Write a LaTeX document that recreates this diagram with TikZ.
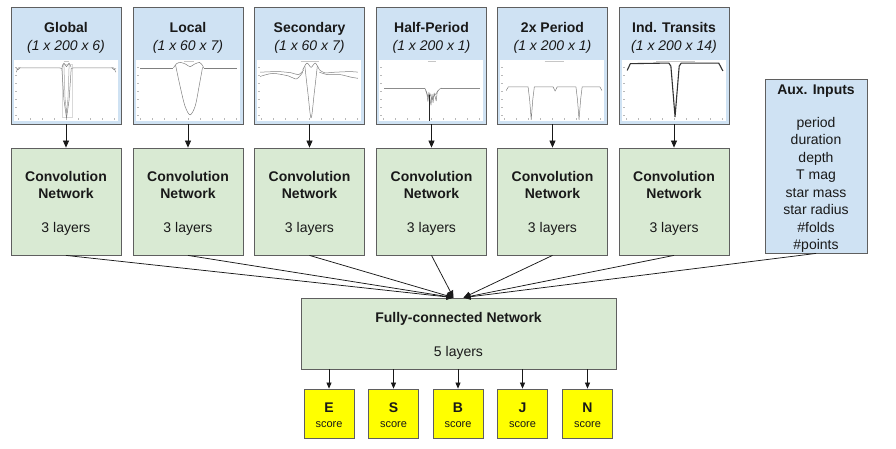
\documentclass[tikz,border=0pt]{standalone}
\usepackage{fontspec}
\setmainfont{Liberation Sans}
\usetikzlibrary{arrows.meta,calc}
\definecolor{inblue}{HTML}{CFE2F3}
\definecolor{convgreen}{HTML}{D9EAD3}
\definecolor{scoreyel}{HTML}{FFFF00}
\definecolor{edgegray}{HTML}{5F5F5F}
\newcommand\myplotaxes{%
  \fill[white] (0,0) rectangle (1,1);
  \foreach \t in {0.1,0.23,...,0.95} \draw[plottick] (0.012,\t)--(0.03,\t);
  \foreach \t in {0.04,0.155,...,0.99} \draw[plottick] (\t,0.02)--(\t,0.045);
}
\begin{document}
\begin{tikzpicture}[x=1pt,y=-1pt,
  font=\fontsize{14}{16}\selectfont,
  inbox/.style={draw=edgegray, line width=0.8pt, fill=inblue, minimum width=110pt, minimum height=117pt, inner sep=0pt},
  convbox/.style={draw=edgegray, line width=0.8pt, fill=convgreen, minimum width=110pt, minimum height=107pt, inner sep=0pt},
  auxbox/.style={draw=edgegray, line width=0.8pt, fill=inblue, minimum width=102pt, minimum height=174pt, inner sep=0pt},
  fcbox/.style={draw=edgegray, line width=0.8pt, fill=convgreen, minimum width=315pt, minimum height=71pt, inner sep=0pt},
  scorebox/.style={draw=edgegray, line width=0.8pt, fill=scoreyel, minimum width=50pt, minimum height=49pt, inner sep=0pt},
  txt/.style={anchor=base, inner sep=0pt, text=black!90},
  btxt/.style={txt, font=\fontsize{14}{16}\selectfont\bfseries},
  itxt/.style={txt, font=\fontsize{14}{16}\selectfont\itshape},
  stxt/.style={txt, font=\fontsize{11}{13}\selectfont},
  arr/.style={draw=black!90, line width=0.75pt, -{Triangle[length=7pt,width=6pt]}},
  plottick/.style={draw=gray!55, line width=0.3pt},
  curve/.style={draw=black!50, line width=0.5pt, line join=round},
  ptitle/.style={draw=gray!45, line width=0.8pt},
]
\useasboundingbox (0,0) rectangle (896,448);

% ---------- input boxes ----------
\node[inbox] (in1) at (66,65.5) {};
\node[inbox] (in2) at (188,65.5) {};
\node[inbox] (in3) at (309.5,65.5) {};
\node[inbox] (in4) at (431.5,65.5) {};
\node[inbox] (in5) at (552.5,65.5) {};
\node[inbox] (in6) at (674,65.5) {};

\node[btxt] (t1a) at (66,32) {Global};
\node[itxt] (t1b) at (66,50) {(1 x 200 x 6)};
\node[btxt] (t2a) at (188,32) {Local};
\node[itxt] (t2b) at (188,50) {(1 x 60 x 7)};
\node[btxt] (t3a) at (309.5,32) {Secondary};
\node[itxt] (t3b) at (309.5,50) {(1 x 60 x 7)};
\node[btxt] (t4a) at (431.5,32) {Half-Period};
\node[itxt] (t4b) at (431.5,50) {(1 x 200 x 1)};
\node[btxt] (t5a) at (552.5,32) {2x Period};
\node[itxt] (t5b) at (552.5,50) {(1 x 200 x 1)};
\node[btxt] (t6a) at (674,32) {Ind. Transits};
\node[itxt] (t6b) at (674,50) {(1 x 200 x 14)};

% ---------- plots ----------
% Global
\begin{scope}[shift={(14,121)},x=104pt,y=61pt]
  \myplotaxes
  \draw[ptitle] (0.48,0.975)--(0.53,0.975);
  \draw[draw=gray!30, line width=0.4pt] (0.465,0.07) rectangle (0.555,0.93);
  \draw[curve] (0.02,0.80)--(0.04,0.87)--(0.44,0.87)--(0.46,0.86)--(0.48,0.35)--(0.505,0.05)--(0.53,0.35)--(0.55,0.86)--(0.57,0.87)--(0.96,0.87)--(0.98,0.80);
  \draw[curve] (0.02,0.86)--(0.04,0.84)--(0.06,0.88);
  \draw[curve] (0.94,0.88)--(0.96,0.84)--(0.98,0.86);
  \draw[curve] (0.46,0.88)--(0.48,0.95)--(0.505,0.89)--(0.53,0.95)--(0.55,0.88);
  \draw[curve,draw=black!35] (0.48,0.92)--(0.49,0.4)--(0.505,0.12)--(0.52,0.4)--(0.53,0.92);
\end{scope}
% Local
\begin{scope}[shift={(136,121)},x=104pt,y=61pt]
  \myplotaxes
  \draw[ptitle] (0.46,0.975)--(0.56,0.975);
  \draw[curve] (0.04,0.87)--(0.36,0.87);
  \draw[curve] (0.65,0.87)--(0.97,0.87);
  \draw[curve] plot[smooth] coordinates {(0.36,0.87) (0.39,0.94) (0.43,0.96) (0.48,0.93) (0.52,0.89) (0.56,0.93) (0.61,0.96) (0.64,0.91) (0.65,0.87)};
  \draw[curve] plot[smooth] coordinates {(0.38,0.92) (0.42,0.6) (0.47,0.25) (0.52,0.1) (0.57,0.25) (0.61,0.6) (0.64,0.88)};
\end{scope}
% Secondary
\begin{scope}[shift={(257,121)},x=104pt,y=61pt]
  \myplotaxes
  \draw[ptitle] (0.42,0.975)--(0.6,0.975);
  \draw[curve] plot[smooth] coordinates {(0.03,0.8) (0.2,0.81) (0.33,0.79) (0.4,0.76) (0.45,0.84)};
  \draw[curve] plot[smooth] coordinates {(0.03,0.73) (0.15,0.78) (0.3,0.74) (0.38,0.69) (0.44,0.8)};
  \draw[curve] plot[smooth] coordinates {(0.6,0.84) (0.65,0.79) (0.75,0.8) (0.9,0.81) (0.97,0.8)};
  \draw[curve] plot[smooth] coordinates {(0.6,0.8) (0.68,0.76) (0.8,0.76) (0.9,0.72) (0.97,0.7)};
  \draw[curve] plot[smooth] coordinates {(0.44,0.84) (0.48,0.95) (0.52,0.88) (0.56,0.95) (0.6,0.84)};
  \draw[curve] plot[smooth] coordinates {(0.46,0.9) (0.49,0.45) (0.52,0.05) (0.55,0.45) (0.58,0.9)};
\end{scope}
% Half-Period
\begin{scope}[shift={(379,121)},x=104pt,y=61pt]
  \myplotaxes
  \draw[ptitle] (0.47,0.975)--(0.55,0.975);
  \draw[curve,draw=black!45] (0.05,0.54)--(0.44,0.54);
  \draw[curve,draw=black!45] (0.6,0.54)--(0.97,0.54);
  \draw[curve] (0.44,0.54)--(0.46,0.46)--(0.47,0.32)--(0.48,0.47)--(0.5,0.26)--(0.51,0.44)--(0.52,0.3)--(0.53,0.46)--(0.55,0.33)--(0.56,0.48)--(0.58,0.52)--(0.6,0.54);
  \draw[curve] (0.45,0.5)--(0.47,0.4)--(0.49,0.45)--(0.51,0.35)--(0.53,0.42)--(0.55,0.45)--(0.57,0.5);
  \draw[draw=black!85, line width=0.6pt] (0.485,0.42)--(0.485,0.0);
\end{scope}
% 2x Period
\begin{scope}[shift={(500,121)},x=104pt,y=61pt]
  \myplotaxes
  \draw[ptitle] (0.43,0.975)--(0.62,0.975);
  \draw[curve] (0.06,0.5)--(0.08,0.56)--(0.27,0.56)--(0.285,0.35)--(0.3,0.02)--(0.315,0.35)--(0.33,0.56)--(0.51,0.56)--(0.53,0.49)--(0.55,0.56)--(0.73,0.56)--(0.745,0.35)--(0.76,0.02)--(0.775,0.35)--(0.79,0.56)--(0.96,0.56)--(0.98,0.5);
\end{scope}
% Ind. Transits
\begin{scope}[shift={(622,121)},x=104pt,y=61pt]
  \myplotaxes
  \draw[ptitle] (0.33,0.975)--(0.7,0.975);
  \draw[curve,draw=black!80,line width=1.1pt] (0.05,0.83)--(0.08,0.94)--(0.45,0.95)--(0.47,0.9)--(0.51,0.07)--(0.55,0.9)--(0.57,0.95)--(0.93,0.95)--(0.97,0.82);
\end{scope}

% ---------- convolution boxes ----------
\node[convbox] (c1) at (66,201.5) {};
\node[convbox] (c2) at (188,201.5) {};
\node[convbox] (c3) at (309.5,201.5) {};
\node[convbox] (c4) at (431.5,201.5) {};
\node[convbox] (c5) at (552.5,201.5) {};
\node[convbox] (c6) at (674,201.5) {};
\foreach \n/\cx in {1/66,2/188,3/309.5,4/431.5,5/552.5,6/674}{
  \node[btxt] (ca\n) at (\cx,181) {Convolution};
  \node[btxt] (cb\n) at (\cx,198) {Network};
  \node[txt] (cc\n) at (\cx,232) {3 layers};
}

% ---------- aux box ----------
\node[auxbox] (aux) at (816,166) {};
\node[btxt] (ax0) at (816,94) {Aux. Inputs};
\node[txt] (ax1) at (816,127) {period};
\node[txt] (ax2) at (816,144.5) {duration};
\node[txt] (ax3) at (816,162) {depth};
\node[txt] (ax4) at (816,179.5) {T mag};
\node[txt] (ax5) at (816,197) {star mass};
\node[txt] (ax6) at (816,214.5) {star radius};
\node[txt] (ax7) at (816,232) {\#folds};
\node[txt] (ax8) at (816,249.5) {\#points};

% ---------- fully connected ----------
\node[fcbox] (fc) at (458.5,333.5) {};
\node[btxt] (fca) at (458.5,322) {Fully-connected Network};
\node[txt] (fcb) at (458.5,356) {5 layers};
\coordinate (fcl) at ($(fc.north)+(-5,0)$);
\coordinate (fcr) at ($(fc.north)+(5,0)$);

% ---------- scores ----------
\foreach \n/\sx/\lab in {1/329/E,2/393.5/S,3/458/B,4/522.5/J,5/587.5/N}{
  \node[scorebox] (s\n) at (\sx,413.5) {};
  \node[btxt] (sl\n) at (\sx,412.5) {\lab};
  \node[stxt] (ss\n) at (\sx,427) {score};
}

% ---------- connectors ----------
\foreach \n in {1,...,6}{
  \draw[arr] (in\n.south) -- (c\n.north);
}
\foreach \n in {1,2,3,4}{
  \draw[arr] (c\n.south) -- (fcl);
}
\foreach \n in {5,6}{
  \draw[arr] (c\n.south) -- (fcr);
}
\draw[arr] (aux.south) -- (fcr);
\foreach \n in {1,...,5}{
  \draw[arr,-{Triangle[length=6pt,width=5pt]}] (fc.south -| s\n.north) -- (s\n.north);
}
\end{tikzpicture}
\end{document}
